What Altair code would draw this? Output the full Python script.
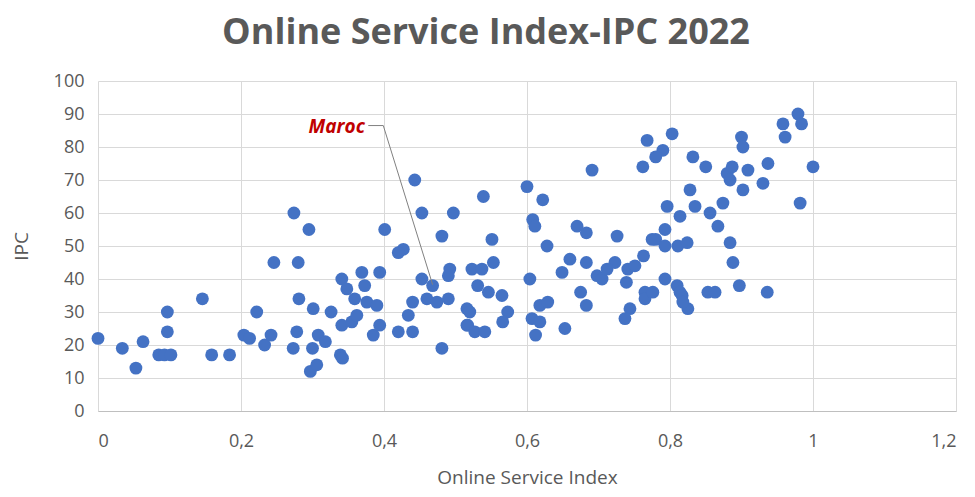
import altair as alt
import pandas as pd

osi = [0.0, 0.034, 0.053, 0.063, 0.085, 0.093, 0.097, 0.097, 0.102, 0.146,
       0.159, 0.184, 0.204, 0.212, 0.222, 0.233, 0.242, 0.246, 0.274, 0.295,
       0.28, 0.281, 0.301, 0.326, 0.278, 0.273, 0.3, 0.308, 0.318, 0.297,
       0.306, 0.339, 0.341, 0.348, 0.369, 0.373, 0.394, 0.359, 0.376, 0.39,
       0.341, 0.355, 0.362, 0.385, 0.394, 0.42, 0.44, 0.401, 0.443, 0.453,
       0.497, 0.481, 0.427, 0.42, 0.453, 0.434, 0.44, 0.468, 0.46, 0.474,
       0.49, 0.492, 0.49, 0.481, 0.516, 0.516, 0.539, 0.6, 0.622, 0.608,
       0.611, 0.551, 0.553, 0.523, 0.537, 0.531, 0.546, 0.565, 0.52, 0.573,
       0.566, 0.517, 0.527, 0.541, 0.604, 0.618, 0.629, 0.607, 0.618, 0.612,
       0.653, 0.628, 0.66, 0.649, 0.67, 0.683, 0.683, 0.675, 0.683, 0.726,
       0.723, 0.698, 0.705, 0.712, 0.741, 0.739, 0.751, 0.763, 0.744, 0.737,
       0.765, 0.765, 0.776, 0.775, 0.691, 0.762, 0.803, 0.768, 0.79, 0.78,
       0.832, 0.85, 0.88, 0.887, 0.884, 0.9, 0.902, 0.909, 0.937, 0.93,
       0.902, 0.958, 0.961, 0.979, 0.984, 1.0, 0.982, 0.828, 0.796, 0.835,
       0.874, 0.814, 0.856, 0.867, 0.793, 0.78, 0.793, 0.811, 0.824, 0.884,
       0.888, 0.793, 0.81, 0.814, 0.853, 0.863, 0.897, 0.936, 0.817, 0.825,
       0.818, 0.342]
ipc = [22, 19, 13, 21, 17, 17, 30, 24, 17, 34,
       17, 17, 23, 22, 30, 20, 23, 45, 60, 55,
       45, 34, 31, 30, 24, 19, 19, 23, 21, 12,
       14, 17, 40, 37, 42, 38, 42, 34, 33, 32,
       26, 27, 29, 23, 26, 24, 24, 55, 70, 60,
       60, 53, 49, 48, 40, 29, 33, 38, 34, 33,
       34, 43, 41, 19, 31, 26, 65, 68, 64, 58,
       56, 52, 45, 43, 43, 38, 36, 35, 30, 30,
       27, 26, 24, 24, 40, 32, 33, 28, 27, 23,
       25, 50, 46, 42, 56, 54, 45, 36, 32, 53,
       45, 41, 40, 43, 43, 39, 44, 47, 31, 28,
       36, 34, 36, 52, 73, 74, 84, 82, 79, 77,
       77, 74, 72, 74, 70, 83, 80, 73, 75, 69,
       67, 87, 83, 90, 87, 74, 63, 67, 62, 62,
       63, 59, 60, 56, 55, 52, 50, 50, 51, 51,
       45, 40, 38, 36, 36, 36, 38, 36, 35, 31,
       33, 16]

label_text = ["Maroc"]
label_x = [0.376]
label_y = [86]
leader_x = [0.378, 0.399, 0.468]
leader_y = [86.5, 86.5, 38.3]

x_ticks = [0, 0.2, 0.4, 0.6, 0.8, 1.0, 1.2]
y_ticks = [0, 10, 20, 30, 40, 50, 60, 70, 80, 90, 100]

pts = pd.DataFrame({"osi": osi, "ipc": ipc})
lab = pd.DataFrame({"t": label_text, "x": label_x, "y": label_y})
lead = pd.DataFrame({"x": leader_x, "y": leader_y, "o": list(range(len(leader_x)))})

xscale = alt.Scale(domain=[0, 1.2], nice=False, zero=False)
yscale = alt.Scale(domain=[0, 100], nice=False)

xaxis = alt.Axis(
    values=x_ticks,
    labelExpr="replace(format(datum.value, '.1~f'), '.', ',')",
    title="Online Service Index",
)
yaxis = alt.Axis(values=y_ticks, title="IPC")

X = lambda f: alt.X(f, scale=xscale, axis=xaxis)
Y = lambda f: alt.Y(f, scale=yscale, axis=yaxis)

points = alt.Chart(pts).mark_circle(size=165, opacity=1, color="#4472c4").encode(
    x=X("osi:Q"), y=Y("ipc:Q"),
)

leader = alt.Chart(lead).mark_line(color="#808080", strokeWidth=1).encode(
    x=X("x:Q"), y=Y("y:Q"), order="o:Q"
)

text = alt.Chart(lab).mark_text(
    align="right", baseline="middle", dx=-2, fontSize=19, fontWeight="bold",
    fontStyle="italic", font="Open Sans", color="#c00000"
).encode(x=X("x:Q"), y=Y("y:Q"), text="t:N")

chart = alt.layer(points, leader, text).properties(
    width=858,
    height=330,
    title=alt.TitleParams(
        "Online Service Index-IPC 2022", fontSize=36, fontWeight="bold",
        font="Open Sans", color="#595959", anchor="middle", dx=-41, offset=20,
    ),
    autosize=alt.AutoSizeParams(type="none"),
    padding={"left": 90, "top": 73, "right": 10, "bottom": 78},
).configure_view(stroke=None).configure_axis(
    grid=True, gridColor="#d9d9d9", gridWidth=1, ticks=False,
    labelFont="Open Sans", labelFontSize=18, labelColor="#595959",
    titleFont="Open Sans", titleFontSize=19, titleFontWeight="normal", titleColor="#595959",
).configure_axisX(
    domainColor="#bfbfbf", labelPadding=21, titlePadding=18,
).configure_axisY(
    domain=False, labelPadding=14, titlePadding=22,
)

chart.save("out.html", embed_options={"renderer": "svg", "actions": False})
